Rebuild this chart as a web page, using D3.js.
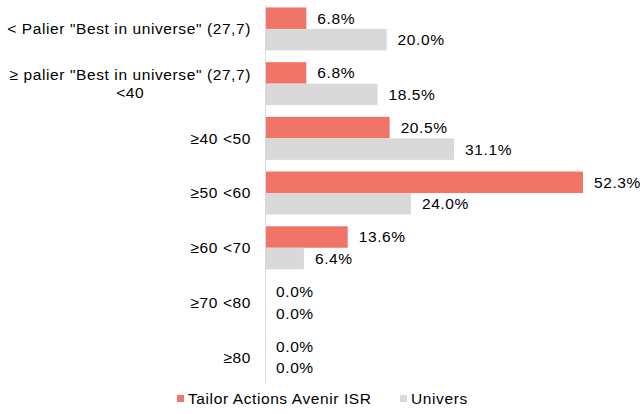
<!DOCTYPE html>
<html>
<head>
<meta charset="utf-8">
<script src="https://cdn.jsdelivr.net/npm/d3@7"></script>
<style>
  body { margin: 0; background: #fff; }
  text { font-family: "Liberation Sans", Arial, sans-serif; fill: #000; letter-spacing: 0.6px; }
</style>
</head>
<body>
<div class="chart"></div>
<script>
// Distribution chart
let categories = [
  ["< Palier \"Best in universe\" (27,7)"],
  ["≥ palier \"Best in universe\" (27,7)", "<40"],
  ["≥40 <50"],
  ["≥50 <60"],
  ["≥60 <70"],
  ["≥70 <80"],
  ["≥80"]
];
let seriesNames = ["Tailor Actions Avenir ISR", "Univers"];
let fundValues = [6.8, 6.8, 20.5, 52.3, 13.6, 0.0, 0.0];
let universeValues = [20.0, 18.5, 31.1, 24.0, 6.4, 0.0, 0.0];
let colors = ["#F07468", "#D9D9D9"];

let svgWidth = 644;
let svgHeight = 414;
let fontSize = "15.5px";

let svg = d3.select(".chart")
  .append("svg")
  .attr("width", svgWidth)
  .attr("height", svgHeight);

let data = categories.map((c, i) => ({
  label: c,
  values: [fundValues[i], universeValues[i]]
}));

let x = d3.scaleLinear()
  .domain([0, 52.3])
  .range([265, 583]);

let y0 = d3.scaleBand()
  .domain(d3.range(categories.length))
  .range([1.6, 384.5]);

let bw = y0.bandwidth();
let y1 = d3.scaleBand()
  .domain([0, 1])
  .range([bw * 0.107, bw * 0.893]);

let groups = svg.selectAll(".grp")
  .data(data)
  .enter()
  .append("g")
  .attr("class", "grp")
  .attr("transform", (d, i) => `translate(0, ${y0(i)})`);

groups.selectAll("rect")
  .data(d => d.values)
  .enter()
  .append("rect")
  .attr("x", x(0))
  .attr("y", (d, j) => y1(j))
  .attr("width", d => x(d) - x(0))
  .attr("height", y1.bandwidth())
  .attr("fill", (d, j) => colors[j]);

groups.selectAll(".val")
  .data(d => d.values)
  .enter()
  .append("text")
  .attr("class", "val")
  .attr("x", d => x(d) + 11)
  .attr("y", (d, j) => y1(j) + y1.bandwidth() / 2)
  .attr("dy", "0.35em")
  .attr("font-size", fontSize)
  .text(d => d.toFixed(1) + "%");

// axis line
svg.append("line")
  .attr("x1", x(0) + 0.5)
  .attr("x2", x(0) + 0.5)
  .attr("y1", 5)
  .attr("y2", 383)
  .attr("stroke", "#D9D9D9")
  .attr("stroke-width", 1);

// category labels
groups.each(function (d) {
  let g = d3.select(this);
  let cy = bw / 2;
  if (d.label.length == 1) {
    g.append("text")
      .attr("x", 251)
      .attr("y", cy)
      .attr("dy", "0.35em")
      .attr("text-anchor", "end")
      .attr("font-size", fontSize)
      .text(d.label[0]);
  } else {
    let first = g.append("text")
      .attr("x", 251)
      .attr("y", cy - 9)
      .attr("dy", "0.35em")
      .attr("text-anchor", "end")
      .attr("font-size", fontSize)
      .text(d.label[0]);
    let w = first.node().getComputedTextLength();
    g.append("text")
      .attr("x", 251 - w / 2)
      .attr("y", cy + 9)
      .attr("dy", "0.35em")
      .attr("text-anchor", "middle")
      .attr("font-size", fontSize)
      .text(d.label[1]);
  }
});

// legend
let legendX = [177, 400];
let legend = svg.selectAll(".leg")
  .data(seriesNames)
  .enter()
  .append("g")
  .attr("class", "leg")
  .attr("transform", (d, i) => `translate(${legendX[i]}, 399)`);

legend.append("rect")
  .attr("x", 0)
  .attr("y", -4)
  .attr("width", 7)
  .attr("height", 7)
  .attr("fill", (d, i) => colors[i]);

legend.append("text")
  .attr("x", 11)
  .attr("y", 0)
  .attr("dy", "0.35em")
  .attr("font-size", fontSize)
  .text(d => d);
</script>
</body>
</html>
